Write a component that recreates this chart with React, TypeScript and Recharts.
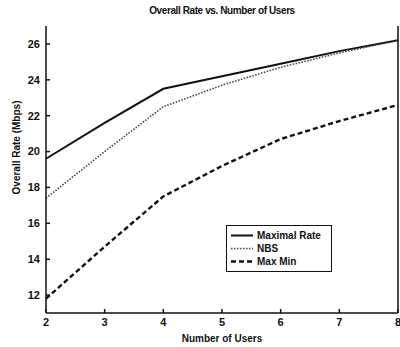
import { LineChart, Line, XAxis, YAxis, Legend } from "recharts";

const users = [2, 3, 4, 5, 6, 7, 8];
const maximalRate = [19.6, 21.6, 23.5, 24.2, 24.9, 25.6, 26.2];
const nbs = [17.4, 20.0, 22.5, 23.7, 24.7, 25.5, 26.2];
const maxMin = [11.8, 14.7, 17.5, 19.2, 20.7, 21.7, 22.6];
const xTicks = [2, 3, 4, 5, 6, 7, 8];
const yTicks = [12, 14, 16, 18, 20, 22, 24, 26];

const FONT = "'Liberation Sans', Arial, sans-serif";

const series = [
    { key: "max", name: "Maximal Rate", dash: undefined as string | undefined, width: 2, color: "#111" },
    { key: "nbs", name: "NBS", dash: "1.5 1.5", width: 1.6, color: "#444" },
    { key: "mm", name: "Max Min", dash: "5 3", width: 2.4, color: "#111" },
];

const data = users.map((u, i) => ({ users: u, max: maximalRate[i], nbs: nbs[i], mm: maxMin[i] }));

function LegendBox() {
    return (
        <div
            style={{
                border: "1.5px solid #111",
                background: "#fff",
                width: 104,
                padding: "3px 0 3px 0",
                fontFamily: FONT,
                fontWeight: "bold",
                fontSize: 10,
                lineHeight: "13px",
                color: "#111",
            }}
        >
            {series.map((s) => (
                <div key={s.key} style={{ display: "flex", alignItems: "center" }}>
                    <svg width={30} height={13}>
                        <line x1={4} x2={26} y1={6.5} y2={6.5} stroke={s.color} strokeWidth={s.width} strokeDasharray={s.dash} />
                    </svg>
                    <span>{s.name}</span>
                </div>
            ))}
        </div>
    );
}

export default function App() {
    const tickStyle = { fontFamily: FONT, fontWeight: "bold", fontSize: 11, fill: "#111" };
    const axisLine = { stroke: "#111", strokeWidth: 1.5 };
    return (
        <div style={{ position: "relative", width: 400, height: 347, background: "#fff", overflow: "hidden" }}>
            <style>{"body{margin:0}"}</style>
            <div
                style={{
                    position: "absolute",
                    top: 5,
                    left: 0,
                    width: 444,
                    textAlign: "center",
                    fontFamily: FONT,
                    fontWeight: "bold",
                    fontSize: 10,
                    letterSpacing: -0.4,
                    color: "#111",
                }}
            >
                Overall Rate vs. Number of Users
            </div>
            <LineChart width={401} height={347} data={data} margin={{ top: 26, right: 0, left: 0, bottom: 0 }}>
                <XAxis
                    dataKey="users"
                    type="number"
                    domain={[2, 8]}
                    ticks={xTicks}
                    height={34}
                    tickSize={-4}
                    tickMargin={9}
                    tick={tickStyle}
                    axisLine={axisLine}
                    tickLine={axisLine}
                    interval={0}
                    label={{ value: "Number of Users", position: "insideBottom", offset: 5, style: { fontFamily: FONT, fontWeight: "bold", fontSize: 10, fill: "#111" } }}
                />
                <XAxis
                    xAxisId="top"
                    orientation="top"
                    dataKey="users"
                    type="number"
                    domain={[2, 8]}
                    ticks={xTicks}
                    height={0}
                    tickSize={-4}
                    tickFormatter={() => ""}
                    axisLine={axisLine}
                    tickLine={axisLine}
                    interval={0}
                />
                <YAxis
                    type="number"
                    domain={[11, 27]}
                    ticks={yTicks}
                    width={46}
                    tickSize={-4}
                    tickMargin={10}
                    tick={tickStyle}
                    axisLine={axisLine}
                    tickLine={axisLine}
                    interval={0}
                    label={{ value: "Overall Rate (Mbps)", angle: -90, position: "insideLeft", offset: 16, dy: -22, style: { textAnchor: "middle", fontFamily: FONT, fontWeight: "bold", fontSize: 10, fill: "#111" } }}
                />
                <YAxis
                    yAxisId="right"
                    orientation="right"
                    type="number"
                    domain={[11, 27]}
                    ticks={yTicks}
                    width={3}
                    tickSize={-4}
                    tickFormatter={() => ""}
                    axisLine={axisLine}
                    tickLine={axisLine}
                    interval={0}
                />
                {series.map((s) => (
                    <Line
                        key={s.key}
                        dataKey={s.key}
                        name={s.name}
                        type="linear"
                        stroke={s.color}
                        strokeWidth={s.width}
                        strokeDasharray={s.dash}
                        dot={false}
                        isAnimationActive={false}
                    />
                ))}
                <Legend
                    layout="horizontal"
                    verticalAlign="middle"
                    align="center"
                    content={() => <LegendBox />}
                    wrapperStyle={{ position: "absolute", left: 226, top: 225, width: "auto" }}
                />
            </LineChart>
        </div>
    );
}
